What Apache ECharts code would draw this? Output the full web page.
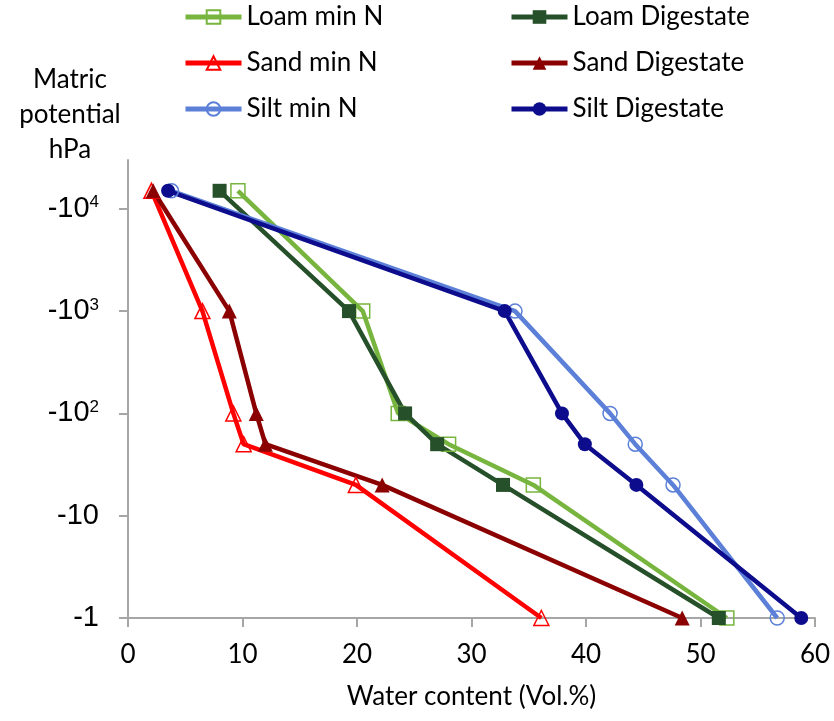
<!DOCTYPE html>
<html>
<head>
    <meta charset="utf-8" />
    <script src="https://cdn.jsdelivr.net/npm/echarts@6/dist/echarts.min.js"></script>
</head>
<body style="margin: 0">
    <div id="container" style="width: 834px;height: 721px;"></div>
    <script type="text/javascript">
        // matric potential levels (hPa, shown as negative on the axis)
        const potentials = [15000, 1000, 100, 50, 20, 1];
        const yTicks = [1, 10, 100, 1000, 10000];
        const yTickLabels = ['-1', '-10', '-10{s|2}', '-10{s|3}', '-10{s|4}'];

        // water content (Vol.%) at each potential
        const loamMinN = [9.6, 20.5, 23.6, 28.0, 35.4, 52.3];
        const loamDigestate = [8.0, 19.3, 24.2, 27.0, 32.75, 51.6];
        const sandMinN = [2.05, 6.5, 9.2, 10.1, 19.9, 36.1];
        const sandDigestate = [2.2, 8.85, 11.2, 12.0, 22.2, 48.4];
        const siltMinN = [3.8, 33.8, 42.1, 44.3, 47.6, 56.7];
        const siltDigestate = [3.5, 32.9, 37.9, 39.9, 44.4, 58.8];

        const font = 'Lato';

        var dom = document.getElementById('container');
        var myChart = echarts.init(dom, null, { renderer: 'canvas' });

        function pairs(xs) {
            return xs.map(function (x, i) { return [x, potentials[i]]; });
        }

        function makeSeries(name, values, color, symbol, open) {
            return {
                name: name,
                type: 'line',
                data: pairs(values),
                symbol: symbol,
                symbolSize: symbol === 'triangle' ? 15 : 14,
                color: color,
                lineStyle: { color: color, width: 4.5 },
                itemStyle: open
                    ? { color: 'rgba(255,255,255,0)', borderColor: color, borderWidth: 1.5 }
                    : { color: color },
                emphasis: { disabled: true },
                animation: false
            };
        }

        var legendText = { fontFamily: font, fontSize: 26, color: '#000', lineHeight: 30 };

        var option = {
            backgroundColor: '#fff',
            title: {
                text: 'Matric\npotential\nhPa',
                left: 65,
                top: 57,
                textAlign: 'center',
                textStyle: { fontFamily: font, fontSize: 26, fontWeight: 'normal', color: '#000', lineHeight: 35 }
            },
            legend: [{
                data: ['Loam min N', 'Sand min N', 'Silt min N'],
                orient: 'vertical',
                left: 183,
                top: 2,
                itemWidth: 56,
                itemHeight: 17,
                itemGap: 16,
                padding: 0,
                lineStyle: { width: 5 },
                textStyle: legendText
            }, {
                data: ['Loam Digestate', 'Sand Digestate', 'Silt Digestate'],
                orient: 'vertical',
                left: 509,
                top: 2,
                itemWidth: 56,
                itemHeight: 17,
                itemGap: 16,
                padding: 0,
                lineStyle: { width: 5 },
                textStyle: legendText
            }],
            grid: { left: 128, right: 19, top: 160, bottom: 103 },
            xAxis: {
                type: 'value',
                min: 0,
                max: 60,
                interval: 10,
                name: 'Water content (Vol.%)',
                nameLocation: 'middle',
                nameGap: 66,
                nameTextStyle: { fontFamily: font, fontSize: 26, color: '#000' },
                axisLine: { show: true, lineStyle: { color: '#A6A6A6', width: 2 } },
                axisTick: { show: true, length: 9, lineStyle: { color: '#A6A6A6', width: 2 } },
                axisLabel: { fontFamily: font, fontSize: 26, color: '#000', margin: 24 },
                splitLine: { show: false }
            },
            yAxis: {
                type: 'log',
                logBase: 10,
                min: 1,
                max: 30000,
                axisLine: { show: true, lineStyle: { color: '#A6A6A6', width: 2 } },
                axisTick: {
                    show: true,
                    length: 9,
                    customValues: yTicks,
                    lineStyle: { color: '#A6A6A6', width: 2 }
                },
                axisLabel: {
                    customValues: yTicks,
                    margin: 29,
                    fontFamily: 'Liberation Sans',
                    fontSize: 29,
                    color: '#000',
                    formatter: function (v) {
                        var i = yTicks.indexOf(Math.round(v));
                        return i >= 0 ? yTickLabels[i] : '';
                    },
                    rich: {
                        s: { fontFamily: 'Liberation Sans', fontSize: 17, color: '#000', verticalAlign: 'top', padding: [0, 0, 10, 0] }
                    }
                },
                splitLine: { show: false }
            },
            series: [
                makeSeries('Loam min N', loamMinN, '#77B53F', 'rect', true),
                makeSeries('Loam Digestate', loamDigestate, '#26502A', 'rect', false),
                makeSeries('Sand min N', sandMinN, '#FF0000', 'triangle', true),
                makeSeries('Sand Digestate', sandDigestate, '#8B0000', 'triangle', false),
                makeSeries('Silt min N', siltMinN, '#5C7FD8', 'circle', true),
                makeSeries('Silt Digestate', siltDigestate, '#0C0C8C', 'circle', false)
            ]
        };

        myChart.setOption(option);
        window.addEventListener('resize', myChart.resize);
    </script>
</body>
</html>
